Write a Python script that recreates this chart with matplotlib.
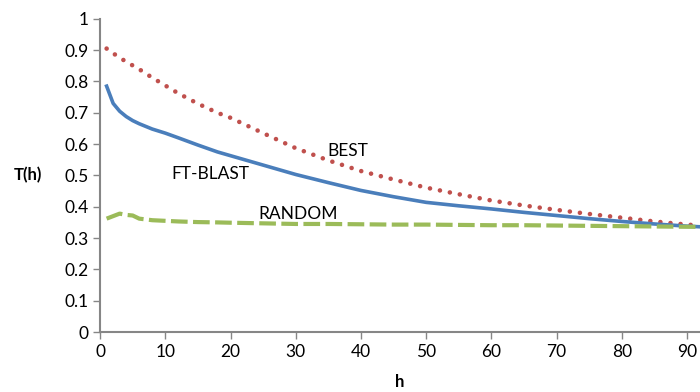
import numpy as np
import matplotlib.pyplot as plt

plt.rcParams['font.family'] = ['Lato', 'DejaVu Sans']

# Data
h = [1, 2, 3, 4, 5, 6, 8, 10, 12, 15, 18, 20, 25, 30, 35, 40, 45, 50,
     55, 60, 65, 70, 75, 80, 85, 90, 92]
ft_blast = [0.785, 0.73, 0.705, 0.688, 0.675, 0.665, 0.648, 0.635, 0.62, 0.597,
            0.575, 0.563, 0.533, 0.503, 0.477, 0.452, 0.432, 0.414, 0.403, 0.393,
            0.382, 0.372, 0.362, 0.353, 0.345, 0.338, 0.336]
best = [0.905, 0.89, 0.876, 0.863, 0.851, 0.839, 0.812, 0.787, 0.762, 0.729,
        0.70, 0.684, 0.635, 0.587, 0.548, 0.514, 0.487, 0.461, 0.44, 0.42,
        0.404, 0.39, 0.377, 0.365, 0.353, 0.343, 0.34]
random_ = [0.362, 0.37, 0.378, 0.374, 0.372, 0.362, 0.357, 0.355, 0.353, 0.351,
           0.35, 0.349, 0.347, 0.345, 0.345, 0.344, 0.343, 0.343, 0.342, 0.341,
           0.341, 0.34, 0.339, 0.338, 0.337, 0.336, 0.336]

fig = plt.figure(figsize=(7, 3.92), dpi=100)
ax = fig.add_axes([0.143, 0.153, 0.857, 0.799])

ax.plot(h, best, color='#C0504D', linestyle=(0, (0.01, 2.2)), linewidth=3.3,
        dash_capstyle='round')
ax.plot(h, ft_blast, color='#4A7EBB', linewidth=2.6)
ax.plot(h, random_, color='#9BBB59', linestyle=(0, (4, 1.3)), linewidth=3)

ax.text(16.9, 0.505, 'FT-BLAST', fontsize=12.5, ha='center', va='center')
ax.text(38, 0.578, 'BEST', fontsize=12.5, ha='center', va='center')
ax.text(30.4, 0.378, 'RANDOM', fontsize=12.5, ha='center', va='center')

ax.set_xlim(0, 92)
ax.set_ylim(0, 1)
ax.set_xticks(range(0, 91, 10))
ax.set_yticks(np.arange(0, 1.01, 0.1))
ax.set_yticklabels(['0', '0.1', '0.2', '0.3', '0.4', '0.5', '0.6', '0.7',
                    '0.8', '0.9', '1'])

for side in ['top', 'right']:
    ax.spines[side].set_visible(False)
for side in ['left', 'bottom']:
    ax.spines[side].set_color('#868686')
    ax.spines[side].set_linewidth(1.5)
ax.tick_params(colors='#868686', labelcolor='black', labelsize=12.5,
               length=5, width=1)

ax.set_xlabel('h', fontsize=12, fontweight='bold', labelpad=10)
ax.set_ylabel('T(h)', fontsize=12, fontweight='bold', rotation=0)
ax.yaxis.set_label_coords(-0.12, 0.5)
ax.yaxis.label.set_va('center')

fig.savefig('out.png', dpi=100)
